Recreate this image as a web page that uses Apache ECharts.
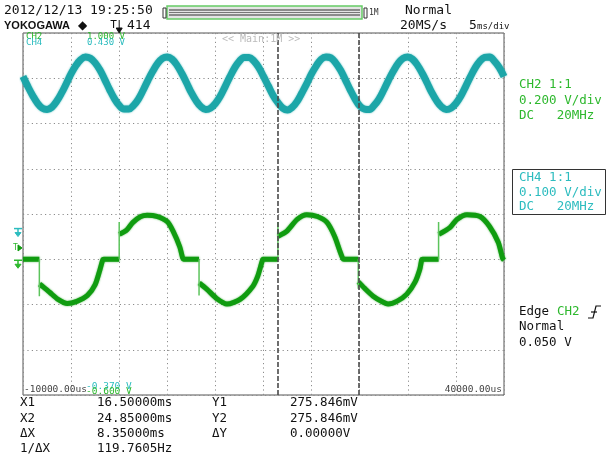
<!DOCTYPE html>
<html>
<head>
<meta charset="utf-8">
<script src="https://cdn.jsdelivr.net/npm/echarts@6/dist/echarts.min.js"></script>
<style>
html, body { margin: 0; padding: 0; background: #fff; }
#chart { width: 611px; height: 456px; }
</style>
</head>
<body>
<div id="chart"></div>
<script>
// time axis in ms (5 ms/div, -10000us .. 40000us)
const timeMin = -10
const timeMax = 40
const timeDiv = 5

// vertical ranges
const ch2Range = [-0.6, 1.0]   // 0.200 V/div
const ch4Range = [-0.37, 0.43] // 0.100 V/div
const trigLevel = 0.05

// CH4 (cyan) sampled every 0.5 ms starting at -10 ms
const ch4Start = -10
const ch4Step = 0.5
const ch4Volt = [
  0.334, 0.312, 0.292, 0.275, 0.264, 0.261, 0.266, 0.279, 0.297, 0.318,
  0.340, 0.358, 0.371, 0.377, 0.374, 0.364, 0.348, 0.327, 0.305, 0.285,
  0.270, 0.262, 0.262, 0.270, 0.284, 0.304, 0.326, 0.346, 0.363, 0.374,
  0.377, 0.372, 0.359, 0.341, 0.320, 0.298, 0.280, 0.267, 0.261, 0.264,
  0.274, 0.290, 0.311, 0.333, 0.353, 0.368, 0.376, 0.376, 0.368, 0.354,
  0.334,
  0.313, 0.292, 0.276, 0.264, 0.260, 0.266, 0.279, 0.298, 0.318, 0.340,
  0.358, 0.372, 0.377, 0.375, 0.364, 0.348, 0.327, 0.305, 0.285, 0.269,
  0.262, 0.261, 0.270, 0.284, 0.304, 0.326, 0.346, 0.363, 0.374, 0.377,
  0.372, 0.359, 0.341, 0.320, 0.298, 0.280, 0.267, 0.261, 0.264, 0.274,
  0.290, 0.311, 0.333, 0.353, 0.368, 0.376, 0.377, 0.368, 0.354, 0.334
]

// CH2 (green), null = pen up at a switching edge
const ch2Time = [
  -10, -8.3, -8.3,
  -8.28, -7.9, -7.2, -6.4, -5.4, -4.4, -3.3, -2.5, -2.0, -1.7, -1.6, 0, 0,
  0.02, 0.8, 1.4, 2.2, 2.9, 3.9, 5.0, 5.6, 6.3, 6.6, 6.7, 8.3, 8.3,
  8.32, 9.1, 10.2, 11.2, 12.6, 13.9, 14.4, 14.85, 14.95, 16.5, 16.5,
  16.52, 17.4, 18.5, 19.5, 20.6, 21.6, 22.4, 22.95, 23.25, 23.35, 24.85, 24.85,
  24.87, 25.55, 26.4, 27.4, 27.95, 28.9, 29.9, 30.75, 31.25, 31.45, 31.55, 33.2, 33.2,
  33.22, 34.4, 35.1, 36.15, 37.5, 38.5, 39.4, 39.85, 40
]
const ch2Volt = [
  0, 0, null,
  -0.110, -0.122, -0.147, -0.176, -0.196, -0.186, -0.160, -0.112, -0.046, -0.002, 0, 0, null,
  0.110, 0.130, 0.162, 0.188, 0.195, 0.190, 0.166, 0.124, 0.054, 0.005, 0, 0, null,
  -0.105, -0.132, -0.176, -0.198, -0.176, -0.119, -0.075, -0.010, 0, 0, null,
  0.102, 0.123, 0.176, 0.197, 0.189, 0.163, 0.101, 0.035, 0.003, 0, 0, null,
  -0.100, -0.130, -0.163, -0.189, -0.198, -0.185, -0.154, -0.101, -0.044, -0.002, 0, 0, null,
  0.110, 0.141, 0.176, 0.197, 0.189, 0.145, 0.075, 0.005, -0.004
]

// thin edges at each switching instant (0 V -> spike)
const ch2JumpTime = [-8.3, 0, 8.3, 16.5, 24.85, 33.2]
const ch2JumpPeak = [-0.163, 0.165, -0.16, 0.165, -0.13, 0.165]

// cursors X1 / X2
const cursorX = [16.5, 24.85]

const ch4Data = ch4Volt.map((v, i) => [ch4Start + i * ch4Step, v])
const ch2Data = ch2Time.map((t, i) => [t, ch2Volt[i] === null ? '-' : ch2Volt[i]])
const jumpData = []
ch2JumpTime.forEach((t, i) => {
  jumpData.push([t, 0], [t, ch2JumpPeak[i]], [t, '-'])
})

const GREEN = '#109c10'
const GREEN_TXT = '#2db82d'
const CYAN = '#1ca6a8'
const CYAN_TXT = '#2cbcbf'
const MONO = "'DejaVu Sans Mono', monospace"

function txt(x, y, s, fill, size, opt) {
  opt = opt || {}
  return {
    type: 'text',
    silent: true,
    z: 100,
    style: {
      text: s,
      x: x,
      y: y,
      fill: fill,
      font: (opt.weight || 'normal') + ' ' + size + 'px ' + (opt.family || MONO),
      align: opt.align || 'left',
      verticalAlign: 'middle',
      textAlign: opt.align || 'left',
      textVerticalAlign: 'middle'
    }
  }
}

function poly(points, stroke, fill, w) {
  return {
    type: fill ? 'polygon' : 'polyline',
    silent: true,
    z: 100,
    shape: { points: points },
    style: { stroke: stroke, fill: fill || null, lineWidth: w || 1 }
  }
}

const dotted = { color: '#8c8c8c', width: 1, type: [1.2, 3.2] }

const chart = echarts.init(document.getElementById('chart'))
chart.setOption({
  animation: false,
  backgroundColor: '#fff',
  grid: {
    left: 23, top: 33, width: 481, height: 362,
    show: true, borderColor: '#555', borderWidth: 1, backgroundColor: 'transparent'
  },
  xAxis: {
    type: 'value', min: timeMin, max: timeMax, interval: timeDiv,
    axisLine: { show: false }, axisTick: { show: false }, axisLabel: { show: false },
    splitLine: { show: true, lineStyle: dotted }
  },
  yAxis: [
    {
      type: 'value', min: ch2Range[0], max: ch2Range[1], interval: 0.2,
      axisLine: { show: false }, axisTick: { show: false }, axisLabel: { show: false },
      splitLine: { show: true, lineStyle: dotted }
    },
    {
      type: 'value', min: ch4Range[0], max: ch4Range[1], show: false,
      splitLine: { show: false }
    }
  ],
  series: [
    {
      name: 'CH4', type: 'line', yAxisIndex: 1, data: ch4Data,
      showSymbol: false, smooth: 0.4, z: 2,
      lineStyle: { color: CYAN, width: 7, shadowColor: 'rgba(28,166,168,0.7)', shadowBlur: 2 }
    },
    {
      name: 'CH2', type: 'line', yAxisIndex: 0, data: ch2Data,
      showSymbol: false, smooth: 0.25, connectNulls: false, z: 3,
      lineStyle: { color: GREEN, width: 5, shadowColor: 'rgba(16,156,16,0.7)', shadowBlur: 2 }
    },
    {
      name: 'CH2 edge', type: 'line', yAxisIndex: 0, data: jumpData,
      showSymbol: false, connectNulls: false, z: 4,
      lineStyle: { color: '#5cc45c', width: 1.5 },
      markLine: {
        silent: true, symbol: 'none',
        label: { show: false },
        lineStyle: { color: '#4a4a4a', width: 1.6, type: [5, 2] },
        data: cursorX.map(x => ({ xAxis: x }))
      }
    }
  ]
})

const yCh4Zero = chart.convertToPixel({ yAxisIndex: 1 }, 0)
const yCh2Zero = chart.convertToPixel({ yAxisIndex: 0 }, 0)
const yTrig = chart.convertToPixel({ yAxisIndex: 0 }, trigLevel)
const xTrig = chart.convertToPixel({ xAxisIndex: 0 }, 0)

function groundMark(y, color) {
  return [
    poly([[14, y], [22, y]], color, null, 1.5),
    poly([[18, y], [18, y + 5]], color, null, 1.5),
    poly([[15, y + 4], [21, y + 4], [18, y + 8]], color, color)
  ]
}

const rows = [403, 419, 434, 449]
const g = [
  // header
  txt(4, 11, '2012/12/13 19:25:50', '#111', 13),
  txt(4, 26, 'YOKOGAWA', '#111', 11, { weight: 'bold', family: "'Liberation Sans', Arial, sans-serif" }),
  txt(78, 26, '◆', '#111', 12, { family: "'DejaVu Sans', sans-serif" }),
  txt(xTrig - 9, 25, 'T', '#111', 11),
  poly([[xTrig, 20], [xTrig, 31]], '#111', null, 1),
  poly([[xTrig - 3, 28], [xTrig + 3, 28], [xTrig, 33]], '#111', '#111'),
  txt(127, 26, '414', '#111', 13),
  txt(405, 11, 'Normal', '#111', 13),
  txt(400, 26, '20MS/s', '#111', 13),
  txt(469, 26, '5', '#111', 13),
  txt(477, 27, 'ms/div', '#111', 9),
  // record bar
  { type: 'rect', silent: true, z: 100, shape: { x: 167, y: 6, width: 195, height: 13 }, style: { fill: '#e4e4e4', stroke: '#66cc66', lineWidth: 1.5 } },
  poly([[169, 10], [360, 10]], '#333', null, 1),
  poly([[169, 12.5], [360, 12.5]], '#777', null, 1),
  poly([[169, 15], [360, 15]], '#333', null, 1),
  { type: 'rect', silent: true, z: 100, shape: { x: 163, y: 8, width: 3, height: 10 }, style: { fill: '#fff', stroke: '#333', lineWidth: 1 } },
  { type: 'rect', silent: true, z: 100, shape: { x: 364, y: 8, width: 3, height: 10 }, style: { fill: '#fff', stroke: '#333', lineWidth: 1 } },
  txt(369, 13, '1M', '#333', 8),
  // inside plot
  txt(26, 37, 'CH2', GREEN_TXT, 9),
  txt(26, 43, 'CH4', CYAN_TXT, 9),
  txt(87, 37, '1.000 V', GREEN_TXT, 9),
  txt(87, 43, '0.430 V', CYAN_TXT, 9),
  txt(222, 39, '<< Main:1M >>', '#bbb', 10),
  txt(24, 390, '-10000.00us', '#444', 9.5),
  txt(86, 387, '-0.370 V', CYAN_TXT, 9.5),
  txt(86, 392, '-0.600 V', GREEN_TXT, 9.5),
  txt(502, 390, '40000.00us', '#444', 9.5, { align: 'right' }),
  // cursor readout
  txt(20, rows[0], 'X1', '#111', 12.5),
  txt(20, rows[1], 'X2', '#111', 12.5),
  txt(20, rows[2], 'ΔX', '#111', 12.5),
  txt(20, rows[3], '1/ΔX', '#111', 12.5),
  txt(97, rows[0], '16.50000ms', '#111', 12.5),
  txt(97, rows[1], '24.85000ms', '#111', 12.5),
  txt(97, rows[2], '8.35000ms', '#111', 12.5),
  txt(97, rows[3], '119.7605Hz', '#111', 12.5),
  txt(212, rows[0], 'Y1', '#111', 12.5),
  txt(212, rows[1], 'Y2', '#111', 12.5),
  txt(212, rows[2], 'ΔY', '#111', 12.5),
  txt(290, rows[0], '275.846mV', '#111', 12.5),
  txt(290, rows[1], '275.846mV', '#111', 12.5),
  txt(290, rows[2], '0.00000V', '#111', 12.5),
  // right panel
  txt(519, 85, 'CH2 1:1', GREEN_TXT, 12.5),
  txt(519, 101, '0.200 V/div', GREEN_TXT, 12.5),
  txt(519, 116, 'DC   20MHz', GREEN_TXT, 12.5),
  { type: 'rect', silent: true, z: 100, shape: { x: 512.5, y: 169.5, width: 93, height: 45 }, style: { fill: null, stroke: '#333', lineWidth: 1 } },
  txt(519, 178, 'CH4 1:1', CYAN_TXT, 12.5),
  txt(519, 193, '0.100 V/div', CYAN_TXT, 12.5),
  txt(519, 207, 'DC   20MHz', CYAN_TXT, 12.5),
  txt(519, 312, 'Edge', '#111', 12.5),
  txt(557, 312, 'CH2', GREEN_TXT, 12.5),
  poly([[588, 318], [593, 318], [596, 306], [601, 306]], '#111', null, 1.2),
  poly([[591, 312], [597, 312]], '#111', null, 1.2),
  txt(519, 327, 'Normal', '#111', 12.5),
  txt(519, 343, '0.050 V', '#111', 12.5),
  // channel markers on the left edge
  txt(13, yTrig, 'T', GREEN_TXT, 8),
  poly([[18, yTrig - 3], [22, yTrig], [18, yTrig + 3]], GREEN, GREEN)
].concat(groundMark(yCh4Zero + 1, CYAN_TXT), groundMark(yCh2Zero + 1, GREEN_TXT))

chart.setOption({ graphic: g })
</script>
</body>
</html>
